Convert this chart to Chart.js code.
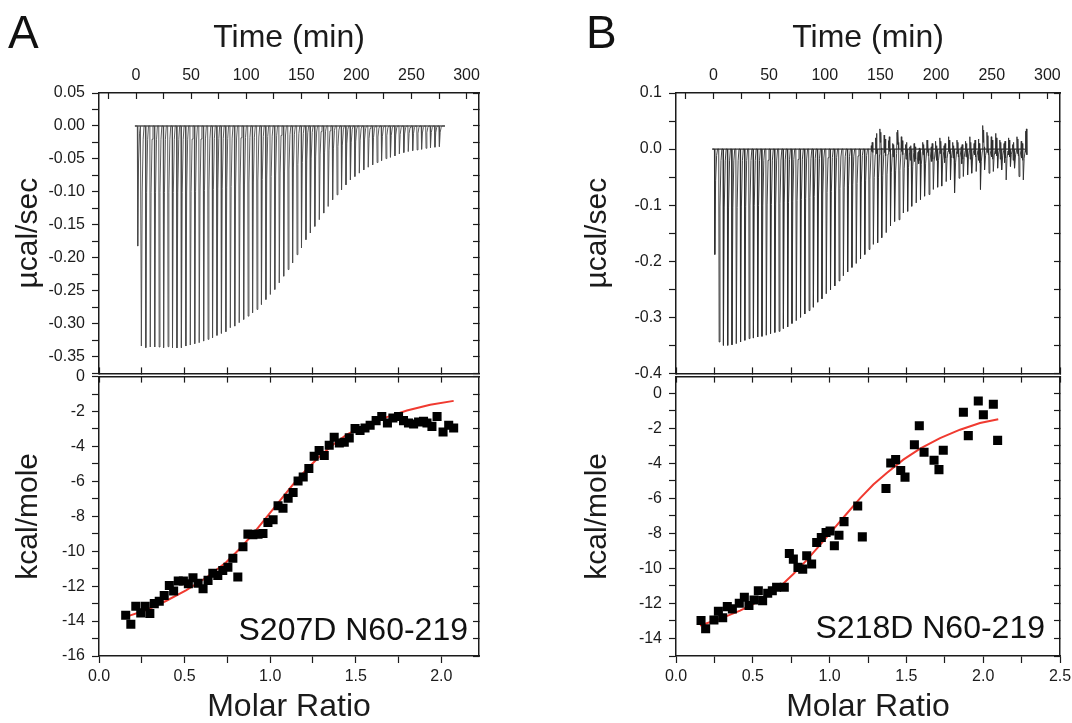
<!DOCTYPE html>
<html>
<head>
<meta charset="utf-8">
<script src="https://cdn.jsdelivr.net/npm/chart.js@4.4.1/dist/chart.umd.min.js"></script>
<style>
  body { margin: 0; width: 1072px; height: 723px; position: relative; overflow: hidden; background: #fff;
         font-family: "Liberation Sans", Arial, Helvetica, sans-serif; }
  canvas { position: absolute; }
  .lbl { position: absolute; color: #111; white-space: nowrap; line-height: 1; }
  .panel { font-size: 46px; top: 9px; }
  .sample { font-size: 32px; }
</style>
</head>
<body>
<canvas id="aTop" width="500" height="390" style="left:0;top:0"></canvas>
<canvas id="aBot" width="500" height="363" style="left:0;top:360px"></canvas>
<canvas id="bTop" width="520" height="390" style="left:560px;top:0"></canvas>
<canvas id="bBot" width="520" height="363" style="left:560px;top:360px"></canvas>
<div class="lbl panel" style="left:8px">A</div>
<div class="lbl panel" style="left:586px">B</div>
<div class="lbl sample" style="right:604px;top:613px">S207D N60-219</div>
<div class="lbl sample" style="right:27px;top:611px">S218D N60-219</div>
<script>
// ---------- tick labels ----------
const timeLabels = [0, 50, 100, 150, 200, 250, 300];
const rateLabelsA = [0.05, 0, -0.05, -0.1, -0.15, -0.2, -0.25, -0.3, -0.35];
const rateLabelsB = [0.1, 0, -0.1, -0.2, -0.3, -0.4];
const heatLabelsA = [0, -2, -4, -6, -8, -10, -12, -14, -16];
const heatLabelsB = [0, -2, -4, -6, -8, -10, -12, -14];
const molarLabelsA = [0, 0.5, 1, 1.5, 2];
const molarLabelsB = [0, 0.5, 1, 1.5, 2, 2.5];

// ---------- raw thermograms (injection peak heights, µcal/sec) ----------
// first entry is the small pre-injection
const peaksA = [-0.182,
  -0.3335, -0.336, -0.335, -0.335, -0.335, -0.336, -0.3345, -0.336, -0.3365, -0.336,
  -0.3335, -0.332, -0.330, -0.3285, -0.326, -0.3234, -0.3209, -0.3174, -0.3143, -0.3118,
  -0.3058, -0.3033, -0.2982, -0.2932, -0.2882, -0.2831, -0.2781, -0.2705, -0.263, -0.2554,
  -0.2478, -0.2378, -0.2277, -0.2176, -0.2075, -0.195, -0.1849, -0.1723, -0.1622, -0.1522,
  -0.1421, -0.132, -0.122, -0.1118, -0.1043, -0.0967, -0.0892, -0.0816, -0.0766, -0.0715,
  -0.0665, -0.0625, -0.0589, -0.0554, -0.0524, -0.0494, -0.0474, -0.0453, -0.0423, -0.0403,
  -0.0388, -0.0373, -0.0363, -0.0353, -0.0338, -0.0328, -0.0322, -0.0312];
const peaksB = [-0.188,
  -0.344, -0.350, -0.350, -0.349, -0.347, -0.344, -0.341, -0.338, -0.337, -0.335,
  -0.334, -0.332, -0.329, -0.327, -0.325, -0.320, -0.317, -0.311, -0.306, -0.300,
  -0.294, -0.288, -0.282, -0.273, -0.267, -0.258, -0.251, -0.244, -0.235, -0.226,
  -0.219, -0.211, -0.204, -0.196, -0.188, -0.179, -0.170, -0.167, -0.158, -0.149,
  -0.137, -0.129, -0.126, -0.114, -0.111, -0.102, -0.096, -0.090, -0.084, -0.081,
  -0.072, -0.068, -0.066, -0.058, -0.055, -0.078, -0.052, -0.049, -0.046, -0.043,
  -0.040, -0.072, -0.037, -0.043, -0.040, -0.034, -0.037, -0.055, -0.031, -0.034,
  -0.049, -0.055];
// baseline wander between injections in B (from injection NOISE_FROM_B on)
const NOISE_FROM_B = 36;
const noiseB = [
  [0.006, -0.004, 0.012, -0.006], [0.020, 0.004, 0.028, -0.008], [0.036, 0.012, 0.030, 0.002],
  [0.025, -0.006, 0.018, -0.012], [0.015, 0.002, 0.022, -0.004], [0.010, -0.014, 0.008, -0.010],
  [0.030, 0.008, 0.034, 0.012], [0.022, -0.004, 0.015, -0.010], [0.008, -0.018, 0.012, -0.012],
  [0.004, -0.020, 0.006, -0.016], [0.010, -0.022, 0.004, -0.018], [-0.004, -0.026, 0.002, -0.020],
  [0.012, -0.010, 0.008, -0.016], [0.016, -0.006, 0.010, -0.012], [0.004, -0.022, 0.010, -0.018],
  [0.014, -0.012, 0.006, -0.020], [0.020, -0.008, 0.014, -0.010], [0.006, -0.024, 0.010, -0.016],
  [0.022, -0.004, 0.016, -0.008], [0.012, -0.016, 0.006, -0.020], [0.016, -0.008, 0.012, -0.014],
  [0.004, -0.026, 0.008, -0.018], [0.014, -0.014, 0.010, -0.012], [0.022, -0.018, 0.012, -0.022],
  [0.010, -0.010, 0.016, -0.014], [0.018, -0.020, 0.010, -0.024], [0.042, 0.012, 0.034, 0.004],
  [0.030, -0.006, 0.024, -0.010], [0.022, -0.014, 0.016, -0.018], [0.028, -0.008, 0.020, -0.012],
  [0.016, -0.018, 0.012, -0.022], [0.010, -0.024, 0.014, -0.016], [0.020, -0.010, 0.016, -0.014],
  [0.008, -0.020, 0.012, -0.018], [0.022, -0.008, 0.018, -0.012], [0.014, -0.016, 0.010, -0.020],
  [0.032, -0.004, 0.036, -0.010]];

// injection schedule (min)
const schedA = { pre: 1.2, first: 4.5, last: 275, start: -1, end: 280.4 };
const schedB = { pre: 0.9, first: 4.8, last: 278, start: -1, end: 279.6 };

// ---------- integrated heats (kcal/mole of injectant) ----------
const molarA = [0.156, 0.186, 0.215, 0.244, 0.270, 0.297, 0.323, 0.352, 0.381, 0.411,
  0.436, 0.463, 0.493, 0.522, 0.549, 0.579, 0.608, 0.637, 0.665, 0.694,
  0.723, 0.753, 0.782, 0.811, 0.841, 0.870, 0.899, 0.929, 0.958, 0.987,
  1.017, 1.046, 1.075, 1.105, 1.134, 1.163, 1.193, 1.226, 1.257, 1.286,
  1.316, 1.345, 1.374, 1.404, 1.433, 1.462, 1.496, 1.525, 1.554, 1.584,
  1.619, 1.652, 1.685, 1.717, 1.750, 1.779, 1.808, 1.838, 1.867, 1.896,
  1.916, 1.945, 1.975, 2.010, 2.043, 2.072];
const heatA = [-13.67, -14.18, -13.15, -13.53, -13.15, -13.57, -13.0, -12.87, -12.53, -11.96,
  -12.28, -11.71, -11.71, -11.86, -11.52, -11.83, -12.15, -11.67, -11.26, -11.39,
  -11.10, -10.92, -10.40, -11.48, -9.74, -9.02, -9.05, -9.02, -8.98, -8.35,
  -8.20, -7.40, -7.54, -6.97, -6.64, -5.98, -5.75, -5.26, -4.56, -4.23,
  -4.52, -3.93, -3.47, -3.80, -3.76, -3.51, -2.98, -3.09, -2.94, -2.79,
  -2.52, -2.28, -2.66, -2.37, -2.28, -2.52, -2.66, -2.71, -2.60, -2.56,
  -2.66, -2.85, -2.28, -3.17, -2.79, -2.94];
const molarB = [0.163, 0.193, 0.247, 0.276, 0.304, 0.334, 0.367, 0.412, 0.445, 0.475,
  0.508, 0.536, 0.564, 0.597, 0.627, 0.655, 0.705, 0.738, 0.764, 0.794,
  0.825, 0.851, 0.883, 0.916, 0.946, 0.977, 1.003, 1.031, 1.061, 1.094,
  1.183, 1.213, 1.367, 1.398, 1.430, 1.463, 1.491, 1.552, 1.584, 1.615,
  1.680, 1.712, 1.740, 1.871, 1.903, 1.968, 2.001, 2.066, 2.094];
const heatB = [-12.97, -13.45, -12.94, -12.44, -12.82, -12.18, -12.31, -11.99, -11.65, -12.12,
  -11.80, -11.27, -11.84, -11.42, -11.27, -11.08, -11.08, -9.15, -9.47, -9.94,
  -10.04, -9.28, -9.75, -8.52, -8.24, -7.95, -7.86, -8.71, -8.11, -7.33,
  -6.44, -8.20, -5.44, -3.98, -3.79, -4.41, -4.79, -2.94, -1.86, -3.37,
  -3.83, -4.36, -3.26, -1.08, -2.42, -0.44, -1.23, -0.63, -2.69];

// ---------- fitted binding curves ----------
const fitMolarA = [0.156, 0.274, 0.391, 0.508, 0.626, 0.743, 0.821, 0.899, 0.977, 1.056,
  1.134, 1.212, 1.290, 1.369, 1.447, 1.564, 1.681, 1.799, 1.935, 2.072];
const fitHeatA = [-13.76, -13.38, -12.85, -12.24, -11.52, -10.63, -9.87, -9.02, -8.07, -7.12,
  -6.17, -5.32, -4.56, -3.89, -3.32, -2.75, -2.32, -1.94, -1.61, -1.39];
const fitMolarB = [0.156, 0.286, 0.417, 0.547, 0.677, 0.764, 0.851, 0.938, 1.024, 1.111,
  1.198, 1.285, 1.372, 1.480, 1.589, 1.719, 1.849, 1.979, 2.098];
const fitHeatB = [-13.26, -12.88, -12.41, -11.84, -11.04, -10.32, -9.53, -8.66, -7.77, -6.88,
  -6.00, -5.21, -4.55, -3.79, -3.16, -2.56, -2.08, -1.70, -1.48];

// ---------- drawing ----------
const FONT = '"Liberation Sans", Arial, Helvetica, sans-serif';
const INK = "#1b1b1b";
const TIME_MIN = -33.6;
const TIME_MAX = 311.3;
// rough injection peak profile: [minutes after injection, fraction of peak]
const SPIKE_SHAPE = [[0, 0], [0.35, 1], [1.1, 0.3], [2.0, 0.06]];
const NOISE_STEPS = [2.35, 2.75, 3.15, 3.55];

function near(list, v) {
	return list.some((m) => Math.abs(m - v) < 1e-9);
}

function axis(o) {
	return {
		type: "linear",
		axis: o.axis,
		position: o.position,
		min: o.min,
		max: o.max,
		afterFit: (s) => {
			if (s.isHorizontal()) s.height = o.size;
			else s.width = o.size;
		},
		// keep only ticks on the step grid (major + minor)
		afterBuildTicks: (s) => {
			s.ticks = s.ticks.filter(
				(t) => Math.abs(t.value / o.step - Math.round(t.value / o.step)) < 1e-6,
			);
		},
		border: { display: true, color: INK, width: 1.5 },
		grid: {
			drawOnChartArea: false,
			drawTicks: true,
			tickLength: o.tick,
			tickColor: INK,
			tickWidth: 1.2,
		},
		ticks: {
			display: !!o.labels,
			stepSize: o.step,
			includeBounds: false,
			autoSkip: false,
			maxRotation: 0,
			minRotation: 0,
			padding: o.pad || 0,
			color: INK,
			font: { family: FONT, size: 16 },
			callback: (v) => {
				if (!o.labels || !near(o.labels, v)) return "";
				return (Math.abs(v) < 1e-9 ? 0 : Number(v)).toFixed(o.dec);
			},
		},
		title: o.title
			? {
					display: true,
					text: o.title,
					color: INK,
					font: { family: FONT, size: o.titleSize, lineHeight: o.titleLine || 1.2 },
					padding: o.titlePad,
				}
			: { display: false },
	};
}

function injectionTimes(sched, n) {
	const times = [sched.pre];
	for (let k = 0; k < n - 1; k++) {
		times.push(sched.first + (k * (sched.last - sched.first)) / (n - 2));
	}
	return times;
}

function trace(sched, peaks, noise, noiseFrom) {
	const times = injectionTimes(sched, peaks.length);
	const pts = [{ x: sched.start, y: 0 }];
	times.forEach((t, i) => {
		SPIKE_SHAPE.forEach(([dt, f]) => pts.push({ x: t + dt, y: f * peaks[i] }));
		const n = noise && noise[i - noiseFrom];
		if (n) NOISE_STEPS.forEach((dt, j) => pts.push({ x: t + dt, y: n[j] }));
		else pts.push({ x: t + 2.8, y: 0 });
	});
	pts.push({ x: sched.end, y: 0 });
	return pts;
}

function xy(xs, ys) {
	return xs.map((x, i) => ({ x: x, y: ys[i] }));
}

function baseOptions(scales) {
	return {
		responsive: false,
		animation: false,
		devicePixelRatio: 1,
		events: [],
		layout: { padding: 0 },
		plugins: { legend: { display: false }, tooltip: { enabled: false } },
		scales: scales,
	};
}

function thermogramChart(id, sched, peaks, noise, noiseFrom, yr, leftSize, rightSize, molarMax, titlePadLeft, color) {
	new Chart(document.getElementById(id), {
		type: "scatter",
		data: {
			datasets: [
				{
					data: trace(sched, peaks, noise, noiseFrom),
					showLine: true,
					pointRadius: 0,
					borderColor: color,
					borderWidth: 0.9,
				},
				{
					data: [{ x: sched.start, y: 0 }, { x: sched.end, y: 0 }],
					showLine: true,
					pointRadius: 0,
					borderColor: "#000",
					borderWidth: 1,
				},
			],
		},
		options: baseOptions({
			x: axis({ axis: "x", position: "top", min: TIME_MIN, max: TIME_MAX, step: 25,
				labels: timeLabels, dec: 0, size: 93, tick: -6, pad: 14,
				title: "Time (min)", titleSize: 32, titlePad: { top: 19 } }),
			xm: axis({ axis: "x", position: "bottom", min: 0, max: molarMax, step: 0.25, size: 15, tick: -6 }),
			y: axis({ axis: "y", position: "left", min: yr.min, max: yr.max, step: yr.step,
				labels: yr.labels, dec: yr.dec, size: leftSize, tick: 7, pad: 7,
				title: "µcal/sec", titleSize: 30, titlePad: { top: titlePadLeft } }),
			ym: axis({ axis: "y", position: "right", min: yr.min, max: yr.max, step: yr.step, size: rightSize, tick: -6 }),
		}),
	});
}

function heatChart(id, mx, hy, fx, fy, yr, leftSize, rightSize, molarMax, molarLabels, titlePadLeft) {
	new Chart(document.getElementById(id), {
		type: "scatter",
		data: {
			datasets: [
				{
					data: xy(mx, hy),
					pointStyle: "rect",
					pointRadius: 6.4,
					backgroundColor: "#000",
					borderColor: "#000",
					borderWidth: 0,
				},
				{
					data: xy(fx, fy),
					showLine: true,
					pointRadius: 0,
					borderColor: "#f03a30",
					borderWidth: 2,
				},
			],
		},
		options: baseOptions({
			x: axis({ axis: "x", position: "bottom", min: 0, max: molarMax, step: 0.25,
				labels: molarLabels, dec: 1, size: 67, tick: 7, pad: 4,
				title: "Molar Ratio", titleSize: 32, titleLine: 1, titlePad: { bottom: 0 } }),
			xm: axis({ axis: "x", position: "top", min: 0, max: molarMax, step: 0.25, size: 15, tick: -6 }),
			y: axis({ axis: "y", position: "left", min: yr.min, max: yr.max, step: 1,
				labels: yr.labels, dec: 0, size: leftSize, tick: 7, pad: 7,
				title: "kcal/mole", titleSize: 30, titlePad: { top: titlePadLeft } }),
			ym: axis({ axis: "y", position: "right", min: yr.min, max: yr.max, step: 1, size: rightSize, tick: -6 }),
		}),
	});
}

thermogramChart("aTop", schedA, peaksA, null, 0,
	{ min: -0.375, max: 0.05, step: 0.025, labels: rateLabelsA, dec: 2 }, 99, 21, 2.22, 11, "#4a4a4a");
thermogramChart("bTop", schedB, peaksB, noiseB, NOISE_FROM_B,
	{ min: -0.4, max: 0.1, step: 0.05, labels: rateLabelsB, dec: 1 }, 116, 20, 2.5, 20, "#2e2e2e");
heatChart("aBot", molarA, heatA, fitMolarA, fitHeatA,
	{ min: -16, max: 0, labels: heatLabelsA }, 99, 21, 2.22, molarLabelsA, 11);
heatChart("bBot", molarB, heatB, fitMolarB, fitHeatB,
	{ min: -15, max: 0.95, labels: heatLabelsB }, 116, 20, 2.5, molarLabelsB, 20);
</script>
</body>
</html>
